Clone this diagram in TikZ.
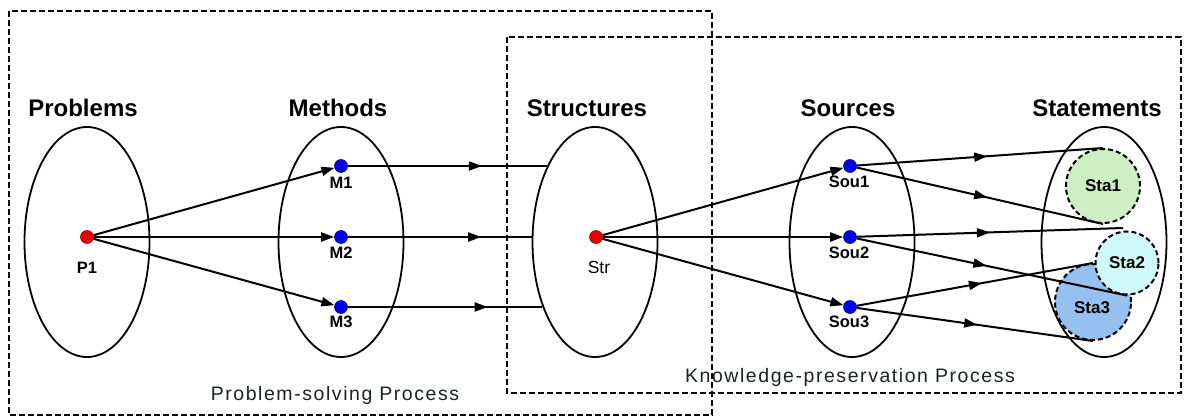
\documentclass[tikz,border=0pt]{standalone}
\usepackage{fontspec}
\setmainfont{Liberation Sans}
\newfontfamily\spacedfont[LetterSpace=8]{Liberation Sans}
\usetikzlibrary{shapes.geometric,arrows.meta,decorations.markings}
\definecolor{staA}{RGB}{204,240,196}
\definecolor{staB}{RGB}{208,250,250}
\definecolor{staC}{RGB}{150,192,240}
\definecolor{dotred}{RGB}{232,0,0}
\definecolor{dotblue}{RGB}{0,0,232}
\definecolor{proctext}{RGB}{25,35,35}
\begin{document}
\begin{tikzpicture}[x=1pt,y=-1pt,
  setell/.style={draw, ellipse, line width=1.8pt, minimum width=125pt, minimum height=230pt, inner sep=0pt},
  title/.style={font=\bfseries\fontsize{24}{28}\selectfont, anchor=base},
  lbl/.style={font=\bfseries\fontsize{16.5}{19}\selectfont, anchor=base},
  rdot/.style={circle, fill=dotred, draw=dotred!70!black, line width=0.6pt, minimum size=13pt, inner sep=0pt},
  bdot/.style={circle, fill=dotblue, draw=dotblue!70!black, line width=0.6pt, minimum size=13pt, inner sep=0pt},
  arr/.style={line width=2pt, -{Triangle[length=13pt,width=9pt]}},
  mid/.style={line width=2pt, postaction={decorate}, decoration={markings, mark=at position #1 with {\arrow{Triangle[length=13pt,width=9pt]}}}},
  procbox/.style={dash pattern=on 6pt off 3pt, line width=2pt},
  stacirc/.style={circle, draw, dash pattern=on 5pt off 3pt, line width=2pt, inner sep=0pt, font=\bfseries\fontsize{17}{19}\selectfont},
  proc/.style={font=\spacedfont\fontsize{19.5}{22}\selectfont, text=proctext, anchor=base}
]
\useasboundingbox (0,0) rectangle (1186,417);

% process boxes
\draw[procbox] (9,11) rectangle (712,415);
\draw[procbox] (507,37) rectangle (1181,393);

% set ellipses
\node[setell] (ep) at (87,242) {};
\node[setell] (em) at (341,242) {};
\node[setell] (es) at (595,242) {};
\node[setell] (eso) at (852,242) {};
\node[setell] (est) at (1104,242) {};

% titles
\node[title] (tp) at (83,117) {Problems};
\node[title] (tm) at (338,117) {Methods};
\node[title] (ts) at (587,117) {Structures};
\node[title] (tso) at (848,117) {Sources};
\node[title] (tst) at (1097,117) {Statements};

% statement circles
\node[stacirc, fill=staA, minimum size=74pt] (sta1) at (1103,186) {Sta1};
\node[stacirc, fill=staC, minimum size=76pt] (sta3) at (1093,302) {};
\node[stacirc, fill=staB, minimum size=63pt] (sta2) at (1127,263) {Sta2};
\node[font=\bfseries\fontsize{17}{19}\selectfont] (sta3t) at (1092,308) {Sta3};

% dots
\node[rdot] (p1) at (87,237) {};
\node[bdot] (m1) at (341,166) {};
\node[bdot] (m2) at (341,237) {};
\node[bdot] (m3) at (341,307) {};
\node[rdot] (str) at (596,237) {};
\node[bdot] (sou1) at (850,166) {};
\node[bdot] (sou2) at (850,237) {};
\node[bdot] (sou3) at (850,307) {};

% dot labels
\node[lbl] (lp1) at (87,273) {P1};
\node[lbl] (lm1) at (341,188) {M1};
\node[lbl] (lm2) at (341,258) {M2};
\node[lbl] (lm3) at (341,327) {M3};
\node[anchor=base, font=\fontsize{17.5}{19}\selectfont] (lstr) at (599,273) {Str};
\node[lbl] (ls1) at (849,187) {Sou1};
\node[lbl] (ls2) at (849,258) {Sou2};
\node[lbl] (ls3) at (849,327) {Sou3};

% ellipse boundary points for method lines
\coordinate (c1) at (548,166);
\coordinate (c2) at (533,237);
\coordinate (c3) at (542,307);
\coordinate (s2top) at (1123,228);

% problems -> methods
\draw[arr] (p1) -- (m1);
\draw[arr] (p1) -- (m2);
\draw[arr] (p1) -- (m3);

% methods -> structures
\draw[mid=0.67] (m1) -- (c1);
\draw[mid=0.72] (m2) -- (c2);
\draw[mid=0.72] (m3) -- (c3);

% structures -> sources
\draw[arr] (str) -- (sou1);
\draw[arr] (str) -- (sou2);
\draw[arr] (str) -- (sou3);

% sources -> statements
\draw[mid=0.53] (sou1) -- (sta1.north);
\draw[mid=0.53] (sou1) -- (sta1.south);
\draw[mid=0.50] (sou2) -- (s2top);
\draw[mid=0.48] (sou2) -- (sta2.south);
\draw[mid=0.53] (sou3) -- (sta3.north);
\draw[mid=0.51] (sou3) -- (sta3.south);

% process labels
\node[proc] (pl1) at (335,400) {Problem-solving Process};
\node[proc] (pl2) at (850,382) {Knowledge-preservation Process};
\end{tikzpicture}
\end{document}
